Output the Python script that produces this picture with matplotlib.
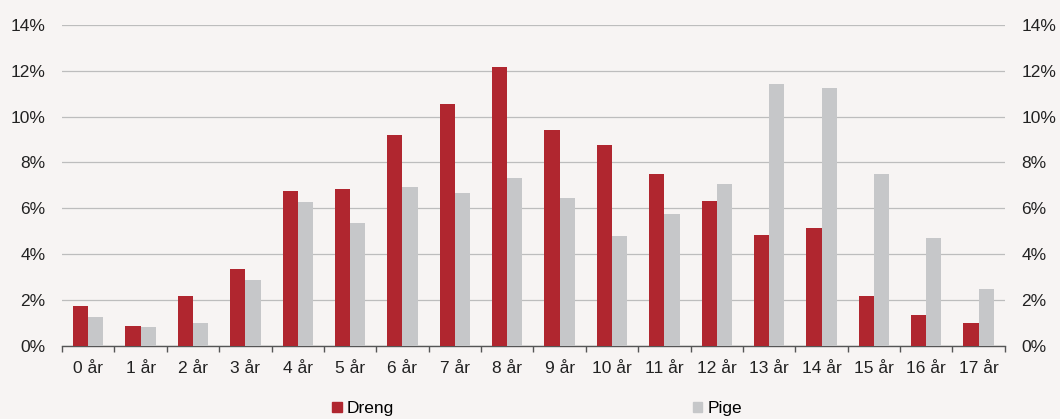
import numpy as np
import matplotlib
matplotlib.use('Agg')
import matplotlib.pyplot as plt
from matplotlib.patches import Patch
from matplotlib.ticker import FuncFormatter, MultipleLocator

# andel pr. alder (procent)
ages = [f'{i} år' for i in range(18)]
dreng = [1.72, 0.85, 2.15, 3.33, 6.75, 6.85, 9.18, 10.56, 12.16, 9.41,
         8.77, 7.49, 6.30, 4.83, 5.15, 2.15, 1.32, 0.98]
pige = [1.24, 0.82, 0.98, 2.87, 6.27, 5.34, 6.91, 6.66, 7.31, 6.43,
        4.77, 5.76, 7.07, 11.42, 11.26, 7.49, 4.69, 2.48]

red = '#B0262F'
grey = '#C6C7C9'
bg = '#F7F4F3'

plt.rcParams['font.family'] = ['Liberation Sans', 'DejaVu Sans']
plt.rcParams['font.size'] = 12.5

fig = plt.figure(figsize=(10.6, 4.19), dpi=100, facecolor=bg)
ax = fig.add_axes([0.0585, 0.1754, 0.8895, 0.7646], facecolor=bg)

x = np.arange(len(ages))
w = 0.29
ax.bar(x - w / 2, dreng, width=w, color=red, zorder=3)
ax.bar(x + w / 2, pige, width=w, color=grey, zorder=3)

ax.set_xlim(-0.5, len(ages) - 0.5)
ax.set_ylim(0, 14)
ax.yaxis.set_major_locator(MultipleLocator(2))
ax.yaxis.set_major_formatter(FuncFormatter(lambda v, p: f'{v:.0f}%'))
ax.grid(axis='y', color='#BDBDBD', linewidth=0.9, zorder=0)

for s in ['top', 'left', 'right']:
    ax.spines[s].set_visible(False)
ax.spines['bottom'].set_color('#555555')
ax.spines['bottom'].set_linewidth(1.0)

ax.set_xticks(x)
ax.set_xticklabels(ages)
ax.set_xticks(np.arange(-0.5, len(ages), 1), minor=True)
ax.tick_params(axis='x', which='major', length=0, pad=11, colors='#222222')
ax.tick_params(axis='x', which='minor', length=4, color='#555555', width=1)
ax.tick_params(axis='y', length=0, pad=12, colors='#222222')

ax2 = ax.twinx()
ax2.set_ylim(ax.get_ylim())
ax2.yaxis.set_major_locator(MultipleLocator(2))
ax2.yaxis.set_major_formatter(FuncFormatter(lambda v, p: f'{v:.0f}%'))
ax2.tick_params(axis='y', length=0, pad=12, colors='#222222')
for s in ax2.spines.values():
    s.set_visible(False)

handles = [Patch(color=red, label='Dreng'), Patch(color=grey, label='Pige')]
fig.legend(handles=handles, loc='center', bbox_to_anchor=(0.5066, 0.025),
           ncol=2, frameon=False, handlelength=0.55, handleheight=0.55,
           handletextpad=0.3, columnspacing=17.2, borderpad=0)

fig.savefig('out.png', dpi=100, facecolor=bg)
